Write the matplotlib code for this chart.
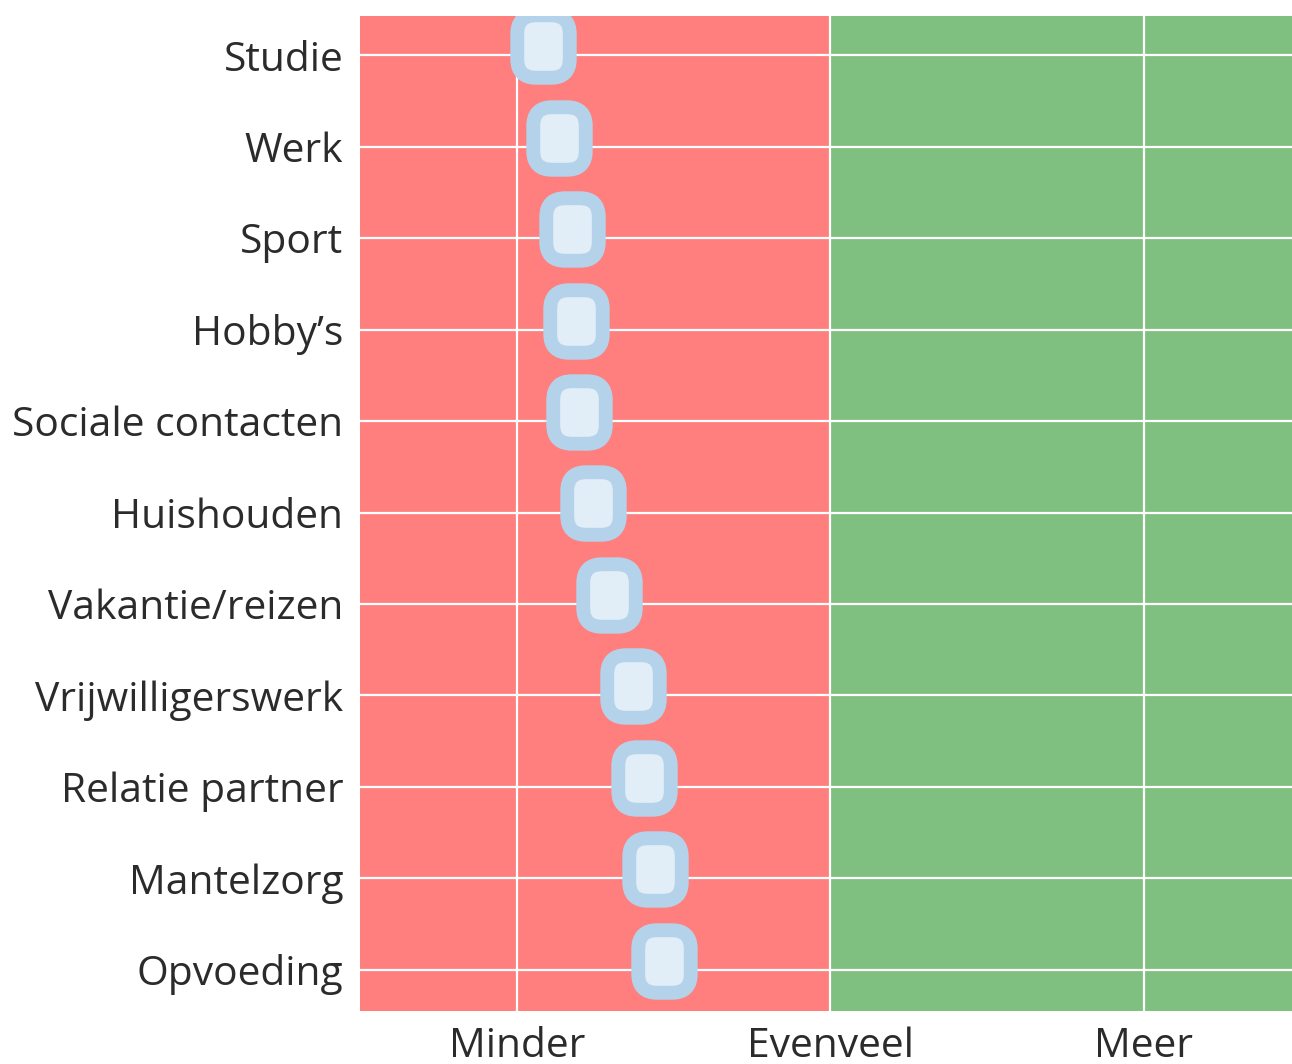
import matplotlib.pyplot as plt
from matplotlib.patches import FancyBboxPatch
from matplotlib.path import Path

categories = ["Studie", "Werk", "Sport", "Hobby\u2019s", "Sociale contacten", "Huishouden",
              "Vakantie/reizen", "Vrijwilligerswerk", "Relatie partner", "Mantelzorg", "Opvoeding"]
scores = [1.083, 1.134, 1.176, 1.189, 1.199, 1.243, 1.293, 1.370, 1.405, 1.440, 1.469]
tick_pos = [1, 2, 3]
tick_labels = ["Minder", "Evenveel", "Meer"]

plt.rcParams['font.family'] = ['Open Sans', 'DejaVu Sans']

# rounded square marker
box = FancyBboxPatch((-0.42, -0.5), 0.84, 1.0, boxstyle="round,pad=0,rounding_size=0.3")
marker = Path(box.get_path().vertices, box.get_path().codes)

fig = plt.figure(figsize=(12.92, 10.64), dpi=100)
ax = fig.add_axes([360 / 1292, 1 - 1011 / 1064, 932 / 1292, 995 / 1064])

ax.axvspan(0.5, 2, color='#ff7f7f', lw=0, zorder=0)
ax.axvspan(2, 3.6, color='#7fbf7f', lw=0, zorder=0)

ypos = list(range(len(categories)))
for y in ypos:
    ax.axhline(y, color='white', lw=1.6, zorder=1)
for x in tick_pos:
    ax.axvline(x, color='white', lw=1.6, zorder=1)

ax.plot(scores, [y - 0.1 for y in ypos], ls='none', marker=marker, markersize=45,
        mfc='#e1eef8', mec='#b4d3ea', mew=10, zorder=3)

ax.set_xlim(0.5, 3.472)
ax.set_ylim(10.45, -0.43)
ax.set_yticks(ypos)
ax.set_yticklabels(categories)
ax.set_xticks(tick_pos)
ax.set_xticklabels(tick_labels)
ax.tick_params(axis='y', length=0, pad=12, labelsize=29.3, labelcolor='#2b2b2b')
ax.tick_params(axis='x', length=0, pad=11, labelsize=29.3, labelcolor='#2b2b2b')
for s in ax.spines.values():
    s.set_visible(False)

fig.savefig('out.png', dpi=100)
